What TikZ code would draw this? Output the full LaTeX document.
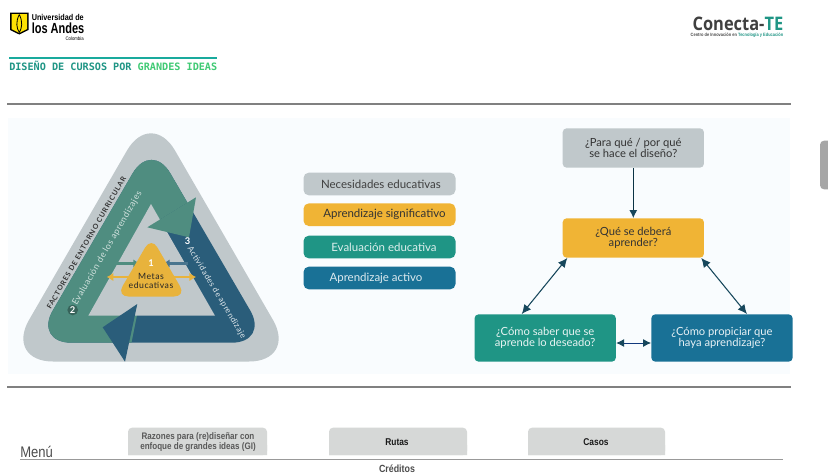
\documentclass[tikz,border=0pt]{standalone}
\usepackage{fontspec}
\setmainfont{Lato}
\newfontfamily\monof{DejaVu Sans Mono}
\newfontfamily\condf[FakeStretch=0.85]{Liberation Sans}
\newfontfamily\narrowf[FakeStretch=0.75]{Liberation Sans}
\newfontfamily\logof[FakeStretch=0.88]{Open Sans}
\newfontfamily\spacedf[LetterSpace=6]{Lato}
\newfontfamily\spacedb[LetterSpace=12]{Lato}
\usetikzlibrary{arrows.meta,shapes.geometric}
\definecolor{panel}{HTML}{F9FCFE}
\definecolor{greyb}{HTML}{C0C8CB}
\definecolor{tealdk}{HTML}{4F8D80}
\definecolor{bluedk}{HTML}{2A5D7A}
\definecolor{gold}{HTML}{E8B33C}
\definecolor{boxgold}{HTML}{F0B435}
\definecolor{boxteal}{HTML}{1F9585}
\definecolor{boxblue}{HTML}{197196}
\definecolor{arrowc}{HTML}{17475C}
\definecolor{tabg}{HTML}{D6D8D7}
\tikzset{
 x=0.75pt,y=-0.75pt,
 box/.style={rounded corners=3pt,minimum width=106pt,minimum height=29.5pt,align=center,font=\fontsize{8.4}{8.3}\selectfont,inner sep=0pt},
 legend/.style={rounded corners=4pt,minimum width=114pt,minimum height=17pt,align=center,font=\fontsize{8.6}{10}\selectfont,inner sep=0pt},
 link/.style={draw=arrowc,line width=0.8pt,{Latex[length=7pt,width=6.5pt]}-{Latex[length=7pt,width=6.5pt]}},
 rule/.style={draw=black!50,line width=1pt},
 tabtext/.style={inner sep=0pt,align=center,font=\condf\fontsize{7.4}{8}\bfseries\selectfont},
 smallarrow/.style={line width=2pt,-{Latex[length=5pt,width=6.5pt]}},
 bandtext/.style={inner sep=0pt,font=\spacedf\fontsize{6.6}{8}\selectfont},
 num/.style={inner sep=0pt,text=white,font=\fontsize{7}{8}\bfseries\selectfont}
}
\begin{document}
\begin{tikzpicture}
\useasboundingbox (0,0) rectangle (828,475);
\fill[white] (0,0) rectangle (828,475);
\fill[panel] (8,118) rectangle (790,374);
\draw[rule] (7,104) -- (791,104);
\draw[rule] (7,387) -- (791,387);
% logos
\fill[black] (10,12.5) -- (28.5,12.5) -- (28.5,30) -- (19.3,34.5) -- (10,30) -- cycle;
\fill[yellow!85!orange] (11.5,14) -- (27,14) -- (27,29) -- (19.3,33) -- (11.5,29) -- cycle;
\draw[black,line width=0.6pt] (19.3,14.5) .. controls (15.5,22) and (16.5,28) .. (19.3,32.5) .. controls (22,28) and (23,22) .. (19.3,14.5);
\node[anchor=west,inner sep=0pt,font=\condf\fontsize{6.4}{7}\bfseries\selectfont] (ua1) at (31.5,17) {Universidad de};
\node[anchor=west,inner sep=0pt,font=\narrowf\fontsize{11}{12}\bfseries\selectfont] (ua2) at (31.5,28) {los Andes};
\node[anchor=east,inner sep=0pt,font=\condf\fontsize{3.8}{4}\selectfont] (ua3) at (84,39) {Colombia};
\node[anchor=east,inner sep=0pt,font=\logof\fontsize{14}{15}\bfseries\selectfont] (ct) at (783.5,24) {\textcolor{black!75}{Conecta-}\textcolor{boxteal}{TE}};
\node[anchor=east,inner sep=0pt,font=\condf\fontsize{3.5}{4}\bfseries\selectfont] (ct2) at (783.5,35) {\textcolor{black!70}{Centro de Innovación en }\textcolor{boxteal}{Tecnología y Educación}};
\draw[boxteal!80!cyan,line width=0.9pt] (9,58) -- (217,58);
\node[anchor=west,inner sep=0pt,font=\monof\fontsize{7.62}{9}\bfseries\selectfont] (title) at (9,66) {\textcolor{boxteal}{DISEÑO DE CURSOS POR }\textcolor{green!45!teal!75}{GRANDES IDEAS}};
% outer triangle
\fill[greyb,rounded corners=36pt] (151,109) -- (297,361.5) -- (5,361.5) -- cycle;
% band: blue whole, teal part clipped
\fill[bluedk,rounded corners=28pt] (151.5,141) -- (269,342.7) -- (34,342.7) -- cycle;
\begin{scope}
\clip (0,100) -- (230,100) -- (230,176.4) -- (160,219.5) -- (140,300) -- (131,345) -- (0,345) -- cycle;
\fill[tealdk,rounded corners=28pt] (151.5,141) -- (269,342.7) -- (34,342.7) -- cycle;
\end{scope}
% hole
\fill[greyb] (151,204) -- (215,315.7) -- (88.3,315.7) -- cycle;
% arrow heads
\fill[bluedk] (137.3,304) -- (102.7,327.3) -- (125,361.7) -- cycle;
\fill[tealdk] (196,197.3) -- (147.3,227.3) -- (189,237.3) -- cycle;
% centre
\draw[tealdk,smallarrow] (116,263.5) -- (140,263.5);
\draw[bluedk!85!white,smallarrow] (188,263.5) -- (163,263.5);
\fill[gold,rounded corners=9pt] (151.3,237) -- (186,296.5) -- (116.5,296.5) -- cycle;
\draw[gold,line width=2pt,{Latex[length=5pt,width=6.5pt]}-{Latex[length=5pt,width=6.5pt]}] (106.7,277) -- (196,277);
\node[num] (n1) at (151,263) {1};
\node[inner sep=0pt,align=center,text=black!85,font=\spacedf\fontsize{6.5}{6.8}\selectfont] (metas) at (151,281) {Metas\\educativas};
\node[rotate=60,inner sep=0pt,text=black!80,font=\spacedb\fontsize{5.3}{6}\bfseries\selectfont] (fac) at (86.3,243) {FACTORES DE ENTORNO CURRICULAR};
\node[rotate=60,bandtext,text=white!75!tealdk] (eva) at (107.3,248.3) {Evaluación de los aprendizajes};
\node[rotate=-59,inner sep=0pt,text=white!85!bluedk,font=\spacedf\fontsize{6.1}{8}\selectfont] (act) at (216.5,292.5) {Actividades de aprendizaje};
\node[circle,fill=tealdk!70!black,minimum size=8pt,inner sep=0pt,text=white,font=\fontsize{7}{8}\bfseries\selectfont] (n2) at (72.7,310) {2};
\node[num] (n3) at (187.7,240.7) {3};
% legend
\node[legend,fill=greyb,text=black!75] (l1) at (379.5,184) {\hspace*{2.2pt}Necesidades educativas};
\node[legend,fill=boxgold,text=black!80] (l2) at (379.5,214.7) {\hspace*{7.5pt}Aprendizaje significativo};
\node[legend,fill=boxteal,text=white!85!boxteal] (l3) at (379.5,247) {\hspace*{6.7pt}Evaluación educativa};
\node[legend,fill=boxblue,text=white!85!boxblue] (l4) at (379.5,278) {Aprendizaje activo\hspace*{5.2pt}};
% flow
\node[box,fill=greyb,text=black!80] (q1) at (633.3,148) {¿Para qué / por qué\\se hace el diseño?};
\node[box,fill=boxgold,text=black!80] (q2) at (633.3,238) {¿Qué se deberá\\aprender?};
\node[box,fill=boxteal,text=white!90!boxteal,minimum height=35.5pt] (q3) at (545.2,338) {¿Cómo saber que se\\aprende lo deseado?};
\node[box,fill=boxblue,text=white!90!boxblue,minimum height=35.5pt] (q4) at (722,338) {¿Cómo propiciar que\\haya aprendizaje?};
\draw[draw=black!55!boxblue,line width=0.8pt,-{Latex[length=6pt,width=6pt,color=arrowc]}] (q1) -- (q2);
\path (q2.south west) ++(5,0) coordinate (a1) (q3.north) ++(-23.5,0) coordinate (a2);
\path (q2.south east) ++(-3,0) coordinate (b1) (q4.north) ++(25,0) coordinate (b2);
\draw[link] (a1) -- (a2);
\draw[link] (b1) -- (b2);
\path (q3.east) ++(0,5) coordinate (c1) (q4.west) ++(0,5) coordinate (c2);
\draw[draw=blue!20!arrowc,line width=0.7pt,{Latex[length=6pt,width=6pt,color=arrowc]}-{Latex[length=6pt,width=6pt,color=arrowc]}] (c1) -- (c2);
% side tab
\fill[black!35,rounded corners=3pt] (820,140.7) rectangle (840,189.3);
% menu
\node[anchor=west,inner sep=0pt,text=black!70,font=\condf\fontsize{11.5}{12}\selectfont] (menu) at (20,452) {Menú};
\begin{scope}[fill=tabg]
\fill[rounded corners=3pt] (128,455) -- (128,427.7) -- (267,427.7) -- (267,455) [sharp corners] -- cycle;
\fill[rounded corners=3pt] (329,455) -- (329,427.7) -- (467,427.7) -- (467,455) [sharp corners] -- cycle;
\fill[rounded corners=3pt] (528,455) -- (528,427.7) -- (665,427.7) -- (665,455) [sharp corners] -- cycle;
\fill (128,445) rectangle (267,455) (329,445) rectangle (467,455) (528,445) rectangle (665,455);
\end{scope}
\node[tabtext,text=black!65,font=\condf\fontsize{7.1}{7.2}\bfseries\selectfont] (t1) at (198,442) {Razones para (re)diseñar con\\enfoque de grandes ideas (GI)};
\node[tabtext,text=black!90] (t2) at (397,442) {Rutas};
\node[tabtext,text=black!90] (t3) at (596,442) {Casos};
\draw[draw=black!40,line width=0.7pt] (20,459) -- (783,459);
\node[tabtext,text=black!70,font=\condf\fontsize{7.8}{9}\bfseries\selectfont] (cr) at (397,468.5) {Créditos};
\end{tikzpicture}
\end{document}
